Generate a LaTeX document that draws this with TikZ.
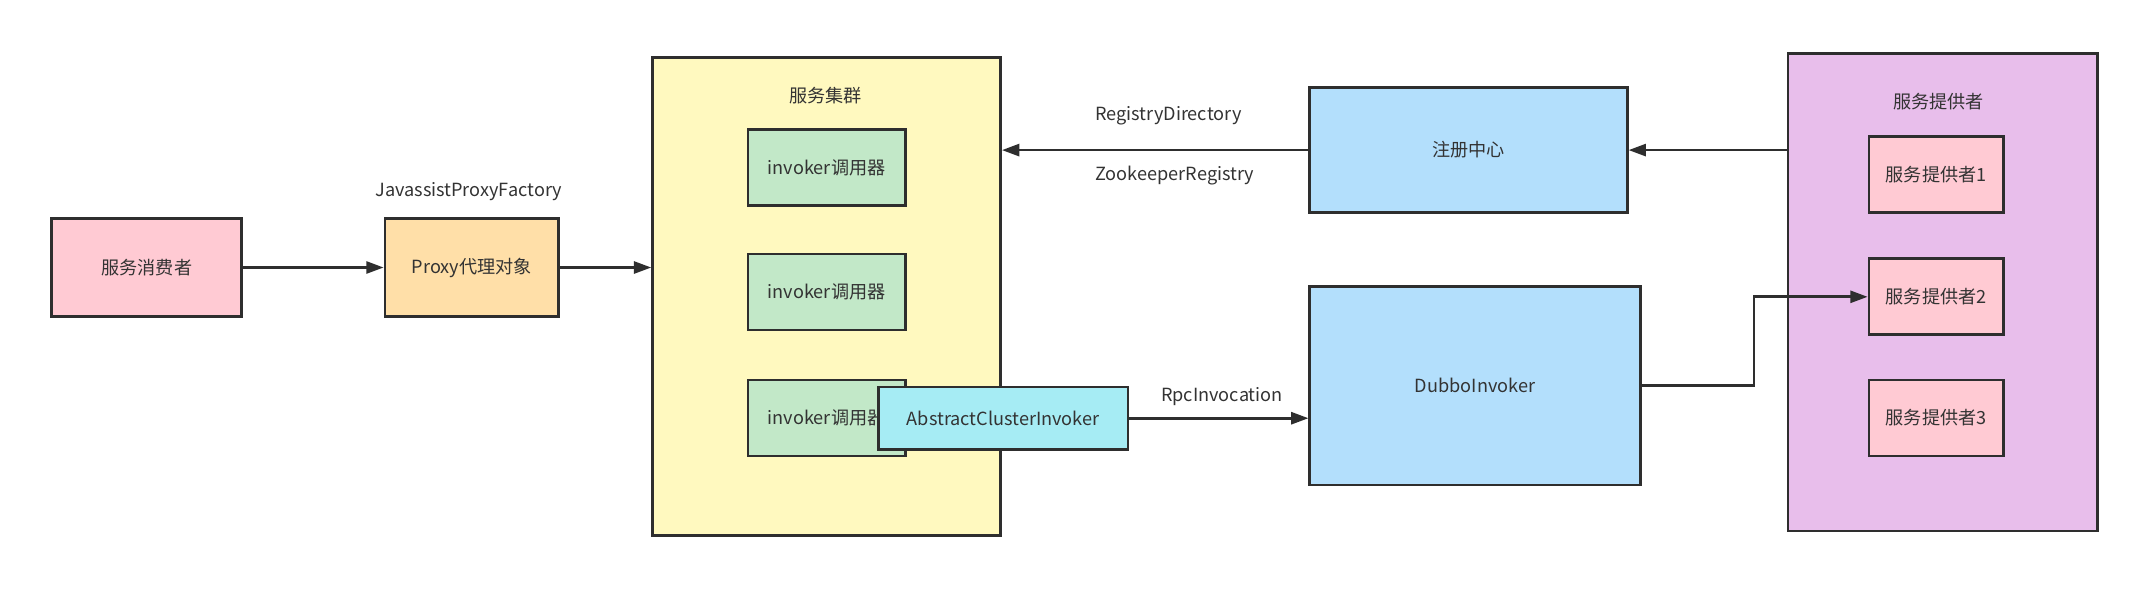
\documentclass[tikz,border=0pt]{standalone}
\usepackage{fontspec}
\setmainfont{Noto Sans CJK SC}
\usetikzlibrary{arrows.meta}
\definecolor{linec}{HTML}{2E2E2E}
\definecolor{txtc}{HTML}{333333}
\definecolor{pinkc}{HTML}{FFCAD3}
\definecolor{orangec}{HTML}{FFDFA8}
\definecolor{yellowc}{HTML}{FFF9BF}
\definecolor{greenc}{HTML}{C2E8C8}
\definecolor{cyanc}{HTML}{A6ECF4}
\definecolor{bluec}{HTML}{B3DFFC}
\definecolor{purplec}{HTML}{E8BEEB}
\tikzset{
  box/.style={draw=linec, line width=2pt, rectangle, inner sep=0pt, text=txtc, font=\fontsize{13.6}{16}\selectfont},
  lbl/.style={text=txtc, font=\fontsize{13.6}{16}\selectfont, inner sep=0pt},
  arr/.style={draw=linec, line width=2pt, -{Triangle[length=13pt,width=9pt]}},
  conn/.style={draw=linec, line width=2pt},
}
\begin{document}
\begin{tikzpicture}[x=0.75pt,y=-0.75pt]
\useasboundingbox[fill=white] (0,0) rectangle (2136,596);
% consumer and proxy
\node[box, fill=pinkc, minimum width=190*0.75pt, minimum height=98*0.75pt] (cons) at (146.8,267.5) {服务消费者};
\node[box, fill=orangec, minimum width=173.7*0.75pt, minimum height=98*0.75pt] (proxy) at (471.8,267.5) {Proxy代理对象};
\node[lbl] (jpf) at (468.7,191.2) {JavassistProxyFactory};
% cluster
\node[box, fill=yellowc, minimum width=348*0.75pt, minimum height=477.4*0.75pt] (cluster) at (826.6,296.5) {};
\node[lbl] (clusterlbl) at (825.6,95.8) {服务集群};
\node[box, fill=greenc, minimum width=157.3*0.75pt, minimum height=76*0.75pt] (inv1) at (826.6,167.6) {invoker调用器};
\node[box, fill=greenc, minimum width=157.3*0.75pt, minimum height=76*0.75pt] (inv2) at (826.6,291.9) {invoker调用器};
\node[box, fill=greenc, minimum width=157.3*0.75pt, minimum height=76*0.75pt] (inv3) at (826.6,417.9) {invoker调用器};
\node[box, fill=cyanc, minimum width=249.3*0.75pt, minimum height=62.7*0.75pt] (aci) at (1003.3,418.2) {AbstractClusterInvoker};
% registry and dubbo
\node[box, fill=bluec, minimum width=317.5*0.75pt, minimum height=125.4*0.75pt] (reg) at (1468.5,150.1) {注册中心};
\node[box, fill=bluec, minimum width=330.4*0.75pt, minimum height=198.4*0.75pt] (dubbo) at (1475,385.8) {DubboInvoker};
\node[lbl, anchor=west] (rd) at (1095,115.9) {RegistryDirectory};
\node[lbl, anchor=west] (zr) at (1095,175.6) {ZookeeperRegistry};
\node[lbl] (rpc) at (1222,396.4) {RpcInvocation};
% providers
\node[box, fill=purplec, minimum width=309.3*0.75pt, minimum height=477.4*0.75pt] (prov) at (1942.6,292.3) {};
\node[lbl] (provlbl) at (1938.6,101.9) {服务提供者};
\node[box, fill=pinkc, minimum width=134.3*0.75pt, minimum height=76*0.75pt] (p1) at (1936.1,174.8) {服务提供者1};
\node[box, fill=pinkc, minimum width=134.3*0.75pt, minimum height=76*0.75pt] (p2) at (1936.1,296.8) {服务提供者2};
\node[box, fill=pinkc, minimum width=134.3*0.75pt, minimum height=76*0.75pt] (p3) at (1936.1,418.1) {服务提供者3};
% connectors
\draw[arr] (cons.east) -- (proxy.west);
\draw[arr] (proxy.east) -- (proxy.east -| cluster.west);
\draw[arr] (reg.west) -- (reg.west -| cluster.east);
\draw[arr] (prov.west |- reg.east) -- (reg.east);
\draw[arr] (aci.east) -- (aci.east -| dubbo.west);
\coordinate (bend) at (1754,385.8);
\draw[arr] (dubbo.east) -- (bend) |- (p2.west);
\end{tikzpicture}
\end{document}
